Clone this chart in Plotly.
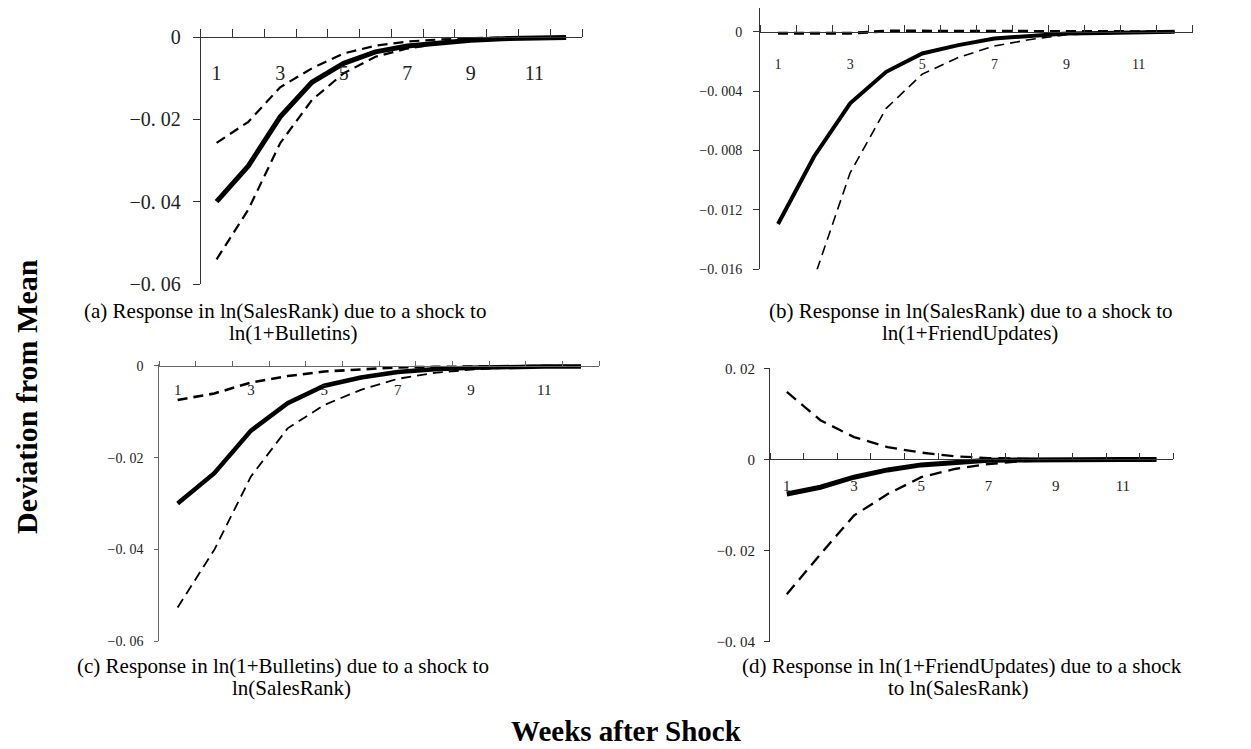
import plotly.graph_objects as go

# ---------------- data ----------------
weeks = list(range(1, 13))

a_irf   = [-0.0400, -0.0313, -0.0194, -0.0110, -0.0064, -0.0036, -0.0022, -0.0014, -0.0008, -0.0004, -0.0002, -0.0001]
a_upper = [-0.0257, -0.0206, -0.0122, -0.0076, -0.0040, -0.0021, -0.0011, -0.0006, -0.0003, -0.0001, -0.0001, 0.0]
a_lower = [-0.0540, -0.0419, -0.0258, -0.0153, -0.0088, -0.0048, -0.0028, -0.0016, -0.0009, -0.0005, -0.0003, -0.0001]

b_irf   = [-0.01295, -0.0084, -0.00482, -0.0027, -0.00146, -0.0009, -0.00045, -0.00027, -0.00012, -0.00008, -0.00005, 0.0]
b_upper = [-0.0001, -0.0001, -0.0001, 0.00005, 0.00005, 0.00005, 0.00005, 0.00005, 0.00005, 0.00005, 0.00005, 0.0]
b_lower = [-0.0320, -0.0166, -0.0095, -0.00516, -0.00285, -0.00173, -0.00096, -0.00052, -0.0002, -0.0001, -0.00005, 0.0]

c_irf   = [-0.0300, -0.0234, -0.0141, -0.0081, -0.0043, -0.0025, -0.0013, -0.0007, -0.0004, -0.0002, -0.0001, -0.0001]
c_upper = [-0.0074, -0.0060, -0.0036, -0.0022, -0.0012, -0.0007, -0.0003, -0.0002, -0.0001, -0.0001, 0.0, 0.0]
c_lower = [-0.0527, -0.0401, -0.0241, -0.0136, -0.0085, -0.0052, -0.0028, -0.0015, -0.0008, -0.0004, -0.0002, -0.0001]

d_irf   = [-0.0076, -0.0061, -0.0039, -0.0023, -0.0012, -0.0006, -0.0002, -0.0001, 0.0, 0.0, 0.0, 0.0]
d_upper = [0.0148, 0.0086, 0.0049, 0.0027, 0.0015, 0.0007, 0.0003, 0.0001, 0.0, 0.0, 0.0, 0.0]
d_lower = [-0.0296, -0.0208, -0.0123, -0.0076, -0.0039, -0.0021, -0.0010, -0.0004, -0.0002, -0.0001, -0.0001, 0.0]

x_tick_vals = [1, 3, 5, 7, 9, 11]
x_tick_text = ["1", "3", "5", "7", "9", "11"]
x_bounds = [0.5 + i for i in range(13)]

a_ytv = [0, -0.02, -0.04, -0.06]
a_ytt = ["0", "\u22120. 02", "\u22120. 04", "\u22120. 06"]
b_ytv = [0, -0.004, -0.008, -0.012, -0.016]
b_ytt = ["0", "\u22120. 004", "\u22120. 008", "\u22120. 012", "\u22120. 016"]
c_ytv = [0, -0.02, -0.04, -0.06]
c_ytt = ["0", "\u22120. 02", "\u22120. 04", "\u22120. 06"]
d_ytv = [0.02, 0, -0.02, -0.04]
d_ytt = ["0. 02", "0", "\u22120. 02", "\u22120. 04"]

captions = [
    ("(a) Response in ln(SalesRank) due to a shock to", "ln(1+Bulletins)"),
    ("(b) Response in ln(SalesRank) due to a shock to", "ln(1+FriendUpdates)"),
    ("(c) Response in ln(1+Bulletins) due to a shock to", "ln(SalesRank)"),
    ("(d) Response in ln(1+FriendUpdates) due to a shock", "to ln(SalesRank)"),
]

# ---------------- layout helpers ----------------
OFF = 8                      # page body margin of the html page
W, H = 1251 - OFF, 749 - OFF  # figure size so that it fits in the window
FONT = "Liberation Serif, Times New Roman, serif"


def fx(px):
    return min(1.0, max(0.0, (px - OFF) / W))


def fy(py):
    return min(1.0, max(0.0, 1 - (py - OFF) / H))


panels = [
    dict(px=(200.7, 582.0), py=(29.2, 284.0), yr=(-0.06, 0.0019), ytv=a_ytv, ytt=a_ytt,
         yfs=20, xfs=20, xstand=18, ystand=8, ylen=7, xlen=8, lc="#333",
         irf=a_irf, up=a_upper, lo=a_lower, sw=5, uw=2.2, lw=2.2, dash="10px,6px",
         cap=captions[0], capx=(285, 293), capy=(311, 333)),
    dict(px=(760.0, 1192.7), py=(8.0, 269.3), yr=(-0.016, 0.0016), ytv=b_ytv, ytt=b_ytt,
         yfs=14, xfs=14, xstand=19, ystand=8, ylen=6, xlen=7, lc="#333",
         irf=b_irf, up=b_upper, lo=b_lower, sw=4, uw=3, lw=1.6, dash="10px,6px",
         cap=captions[1], capx=(971, 970), capy=(311, 333)),
    dict(px=(159.3, 599.3), py=(363.7, 641.0), yr=(-0.06, 0.0005), ytv=c_ytv, ytt=c_ytt,
         yfs=14, xfs=15, xstand=10, ystand=8, ylen=4, xlen=5, lc="#666",
         irf=c_irf, up=c_upper, lo=c_lower, sw=4.5, uw=2.6, lw=1.8, dash="10px,6px",
         cap=captions[2], capx=(283, 291), capy=(666, 688)),
    dict(px=(770.0, 1173.3), py=(368.3, 641.7), yr=(-0.04, 0.02), ytv=d_ytv, ytt=d_ytt,
         yfs=15, xfs=15, xstand=13, ystand=6, ylen=5, xlen=6, lc="#333",
         irf=d_irf, up=d_upper, lo=d_lower, sw=5, uw=2.3, lw=2.3, dash="12px,7px",
         cap=captions[3], capx=(962, 958), capy=(666, 688)),
]

fig = go.Figure()
layout = dict(
    width=W, height=H, margin=dict(l=0, r=0, t=0, b=0),
    paper_bgcolor="white", plot_bgcolor="rgba(0,0,0,0)",
    showlegend=False, font=dict(family=FONT, color="black"),
)
annotations = []

for i, p in enumerate(panels):
    n = "" if i == 0 else str(i + 1)
    xa, ya = "x" + n, "y" + n
    xdom = [fx(p["px"][0]), fx(p["px"][1])]
    ydom = [fy(p["py"][1]), fy(p["py"][0])]
    r0, r1 = p["yr"]
    zero_pos = ydom[0] + (0 - r0) / (r1 - r0) * (ydom[1] - ydom[0])

    for vals, w, dash in ((p["up"], p["uw"], p["dash"]), (p["lo"], p["lw"], p["dash"]), (p["irf"], p["sw"], "solid")):
        fig.add_trace(go.Scatter(
            x=weeks, y=vals, mode="lines", xaxis=xa, yaxis=ya,
            line=dict(color="black", width=w, dash=dash),
            hoverinfo="skip", showlegend=False,
        ))

    layout["xaxis" + n] = dict(
        domain=xdom, range=[0.5, 12.5], anchor="free", position=zero_pos,
        showline=True, linecolor=p["lc"], linewidth=1, showgrid=False, zeroline=False,
        tickmode="array", tickvals=x_tick_vals, ticktext=x_tick_text, ticks="",
        tickfont=dict(family=FONT, size=p["xfs"], color="#222"),
        ticklabelstandoff=p["xstand"], automargin=False, fixedrange=True,
        minor=dict(tickmode="array", tickvals=x_bounds, ticks="inside", ticklen=p["xlen"],
                   tickcolor=p["lc"], tickwidth=1, showgrid=False),
    )
    layout["yaxis" + n] = dict(
        domain=ydom, range=[r0, r1], anchor=xa,
        showline=True, linecolor=p["lc"], linewidth=1, showgrid=False, zeroline=False,
        tickmode="array", tickvals=p["ytv"], ticktext=p["ytt"], ticks="outside",
        ticklen=p["ylen"], tickcolor=p["lc"], tickwidth=1,
        tickfont=dict(family=FONT, size=p["yfs"], color="#222"),
        ticklabelstandoff=p["ystand"], automargin=False, fixedrange=True,
    )
    for line_txt, cx, cy in zip(p["cap"], p["capx"], p["capy"]):
        annotations.append(dict(
            text=line_txt, x=fx(cx), y=fy(cy), xref="paper", yref="paper",
            xanchor="center", yanchor="middle", showarrow=False,
            font=dict(family=FONT, size=21, color="black"),
        ))

annotations.append(dict(
    text="<b>Deviation from Mean</b>", x=fx(27), y=fy(397), xref="paper", yref="paper",
    xanchor="center", yanchor="middle", showarrow=False, textangle=-90,
    font=dict(family=FONT, size=30, color="black"),
))
annotations.append(dict(
    text="<b>Weeks after Shock</b>", x=fx(626), y=fy(731), xref="paper", yref="paper",
    xanchor="center", yanchor="middle", showarrow=False,
    font=dict(family=FONT, size=29, color="black"),
))
layout["annotations"] = annotations

fig.update_layout(**layout)
fig.write_html("out.html")
